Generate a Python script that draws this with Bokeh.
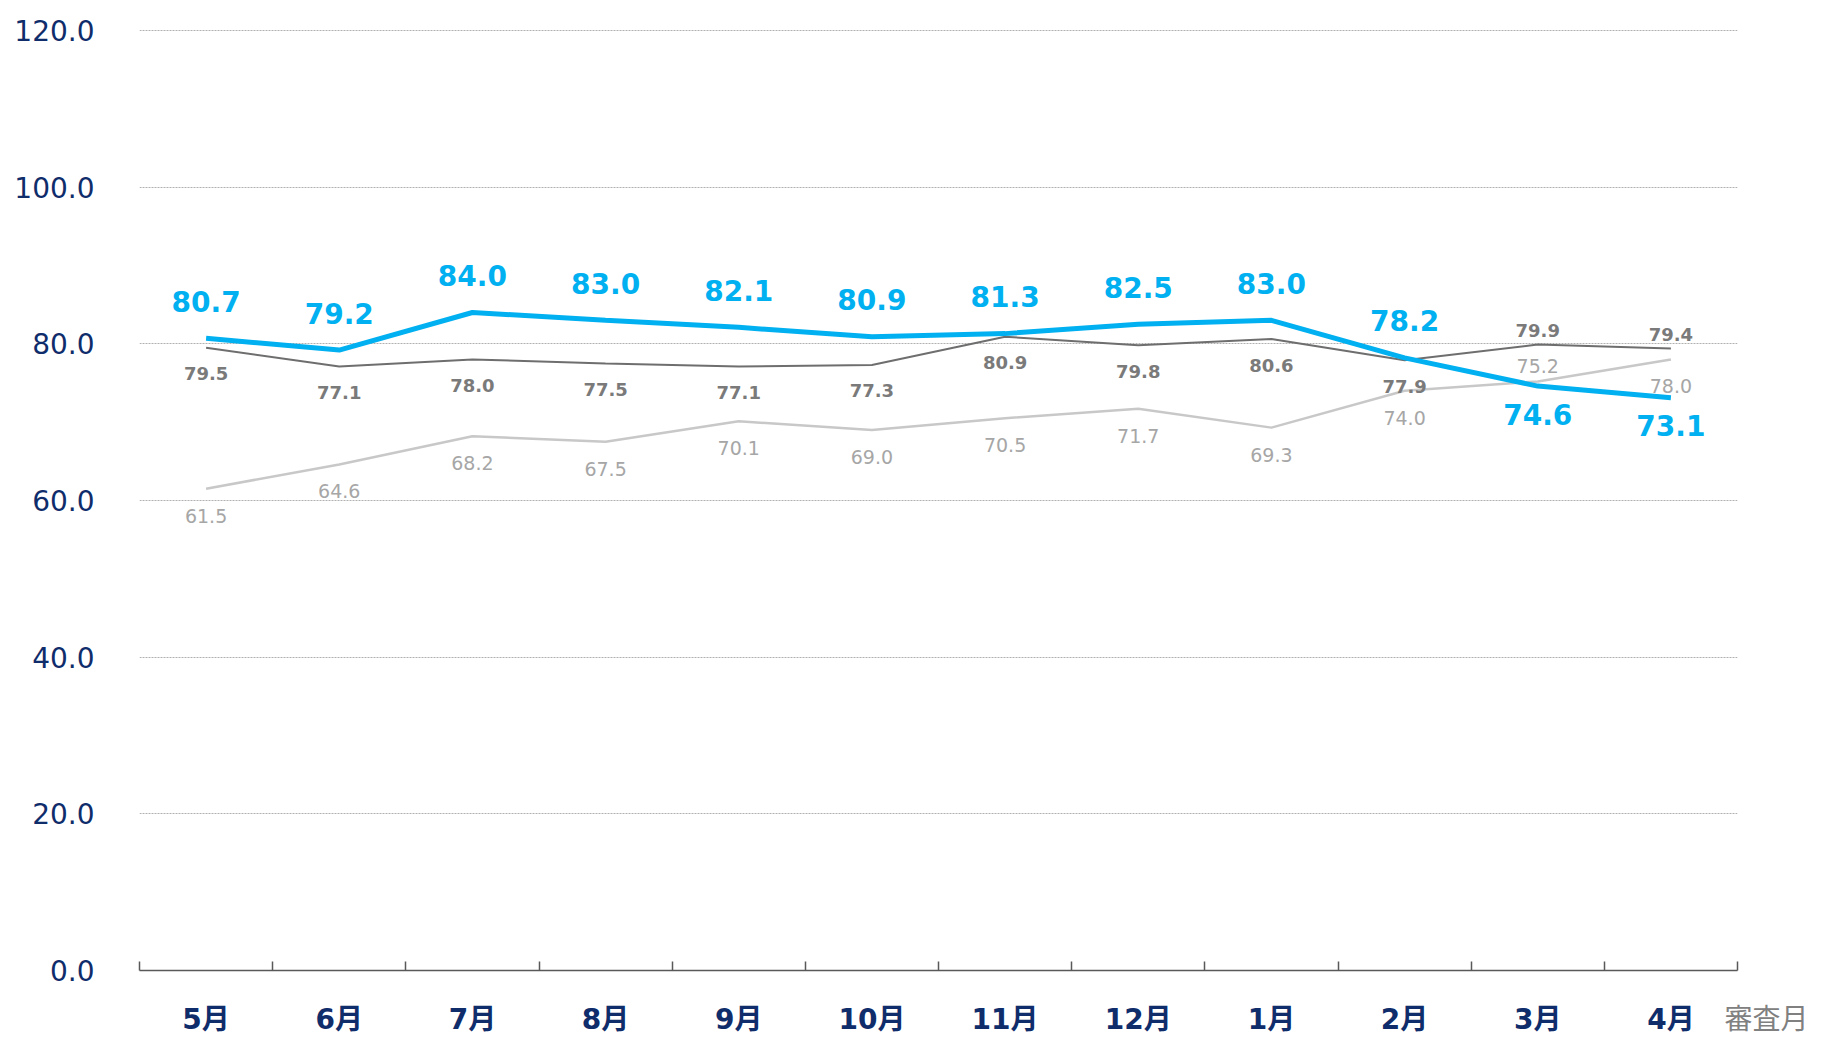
from bokeh.plotting import figure
from bokeh.models import (FixedTicker, Label, ColumnDataSource, CustomJSTickFormatter,
                          NumeralTickFormatter, Range1d)
from bokeh.embed import file_html
from bokeh.resources import INLINE
from bokeh.core.properties import value

# ---- data ----
months = ["5月", "6月", "7月", "8月", "9月", "10月", "11月", "12月", "1月", "2月", "3月", "4月"]
main_series = [80.7, 79.2, 84.0, 83.0, 82.1, 80.9, 81.3, 82.5, 83.0, 78.2, 74.6, 73.1]
dark_series = [79.5, 77.1, 78.0, 77.5, 77.1, 77.3, 80.9, 79.8, 80.6, 77.9, 79.9, 79.4]
light_series = [61.5, 64.6, 68.2, 67.5, 70.1, 69.0, 70.5, 71.7, 69.3, 74.0, 75.2, 78.0]
y_ticks = [0, 20, 40, 60, 80, 100, 120]
x_axis_title = "審査月"

# style: where the light series labels sit
light_label_above = [False] * 10 + [True, False]

FONT = "DejaVu Sans, Noto Sans CJK JP"
NAVY = "#0F2C6B"
BLUE = "#00B0F0"
DARK = "#6E6E6E"
DARK_TXT = "#7A7A7A"
LIGHT = "#C8C8C8"
LIGHT_TXT = "#A6A6A6"

n = len(months)
xs = [i + 0.5 for i in range(n)]

main_off = [-37 if m >= d else 28 for m, d in zip(main_series, dark_series)]
dark_off = [26 if d <= m else -14 for m, d in zip(main_series, dark_series)]
light_off = [-15 if a else 27 for a in light_label_above]

src = ColumnDataSource(dict(
    x=xs, main=main_series, dark=dark_series, light=light_series,
    main_lbl=[f"{v:.1f}" for v in main_series],
    dark_lbl=[f"{v:.1f}" for v in dark_series],
    light_lbl=[f"{v:.1f}" for v in light_series],
    main_off=main_off, dark_off=dark_off, light_off=light_off,
))

p = figure(width=1821, height=1038, x_range=Range1d(0, n), y_range=Range1d(0, 120.25),
           output_backend="svg", toolbar_location=None,
           min_border_left=139, min_border_right=82, min_border_top=28, min_border_bottom=66)
p.outline_line_color = None
p.background_fill_color = "white"
p.border_fill_color = "white"

# grid
p.xgrid.visible = False
p.ygrid.ticker = FixedTicker(ticks=[t for t in y_ticks if t > 0])
p.ygrid.grid_line_color = "#B0B0B0"
p.ygrid.grid_line_dash = "2 1"
p.ygrid.grid_line_width = 1

# y axis
p.yaxis.ticker = FixedTicker(ticks=y_ticks)
p.yaxis.formatter = NumeralTickFormatter(format="0.0")
p.yaxis.axis_line_color = None
p.yaxis.major_tick_line_color = None
p.yaxis.minor_tick_line_color = None
p.yaxis.major_label_text_font = FONT
p.yaxis.major_label_text_font_size = "28px"
p.yaxis.major_label_text_color = NAVY
p.yaxis.major_label_standoff = 39

# x axis
p.xaxis.ticker = FixedTicker(ticks=xs, minor_ticks=list(range(n + 1)))
p.xaxis.formatter = CustomJSTickFormatter(args=dict(labels=months),
                                          code="return labels[Math.floor(tick)];")
p.xaxis.axis_line_color = "#595959"
p.xaxis.axis_line_width = 1.5
p.xaxis.major_tick_line_color = None
p.xaxis.minor_tick_line_color = "#595959"
p.xaxis.minor_tick_line_width = 1.5
p.xaxis.minor_tick_in = 9
p.xaxis.minor_tick_out = 0
p.xaxis.major_label_text_font = FONT
p.xaxis.major_label_text_font_size = "28px"
p.xaxis.major_label_text_font_style = "bold"
p.xaxis.major_label_text_color = NAVY
p.xaxis.major_label_standoff = 26

# lines
p.line("x", "light", source=src, line_color=LIGHT, line_width=2.5)
p.line("x", "dark", source=src, line_color=DARK, line_width=2)
p.line("x", "main", source=src, line_color=BLUE, line_width=5)

# labels
p.text("x", "light", text="light_lbl", source=src, y_offset="light_off",
       text_align="center", text_baseline="middle", text_font=value(FONT),
       text_font_size="19px", text_color=LIGHT_TXT)
p.text("x", "dark", text="dark_lbl", source=src, y_offset="dark_off",
       text_align="center", text_baseline="middle", text_font=value(FONT),
       text_font_size="18px", text_font_style="bold", text_color=DARK_TXT)
p.text("x", "main", text="main_lbl", source=src, y_offset="main_off",
       text_align="center", text_baseline="middle", text_font=value(FONT),
       text_font_size="28px", text_font_style="bold", text_color=BLUE)

p.add_layout(Label(x=-13, y=-49, x_units="screen", y_units="screen", text=x_axis_title,
                   text_align="left", text_baseline="middle", text_font=FONT,
                   text_font_size="28px", text_color="#808080"), "right")

open("out.html", "w").write(file_html(p, INLINE))
